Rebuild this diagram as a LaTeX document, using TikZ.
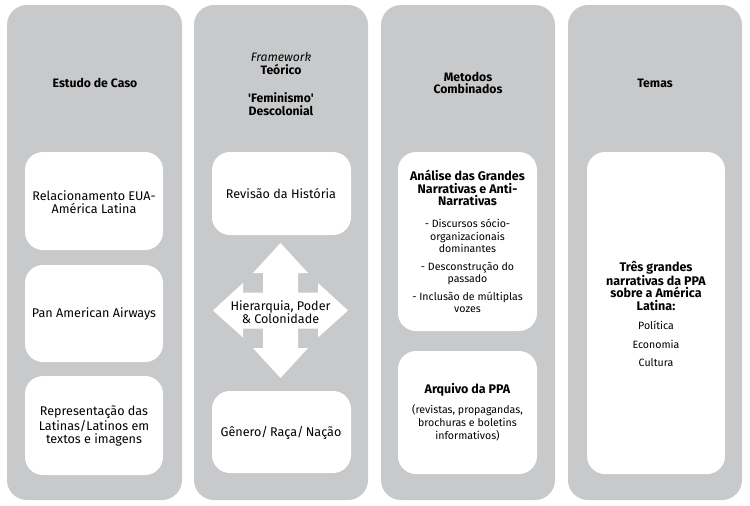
\documentclass[tikz,border=0pt]{standalone}
\usepackage{fontspec}
\setmainfont{Fira Sans}
\definecolor{colgray}{RGB}{200,201,203}
\begin{document}
\begin{tikzpicture}[x=1pt,y=-1pt,
  column/.style={fill=colgray,draw=none,rounded corners=20pt},
  wbox/.style={fill=white,draw=none,rounded corners=18pt},
  head/.style={font=\fontsize{12.2}{12.8}\selectfont\bfseries,align=center,inner sep=0pt},
  body/.style={font=\fontsize{12.6}{13.2}\selectfont,align=center,inner sep=0pt},
  small/.style={font=\fontsize{10.6}{12.8}\selectfont,align=center,inner sep=0pt},
  boldb/.style={font=\fontsize{12.5}{12.8}\selectfont\bfseries,align=center,inner sep=0pt}]
\useasboundingbox (0,0) rectangle (750,506);
% columns
\fill[column] (7,5) rectangle (182,500);
\fill[column] (194,5) rectangle (368,500);
\fill[column] (381,5) rectangle (555,500);
\fill[column] (568,5) rectangle (742,500);
% headers
\node[head] (h1) at (95,83) {Estudo de Caso};
\node[head] (h2) at (281,84) {\textit{\mdseries Framework}\\Teórico\\[15pt]\textquotesingle Feminismo\textquotesingle\\Descolonial};
\node[head] (h3) at (468,83) {Metodos\\Combinados};
\node[head] (h4) at (655,83) {Temas};
% column 1
\fill[wbox] (25,152) rectangle (163,250);
\node[body] (c1a) at (94,202) {Relacionamento EUA-\\América Latina};
\fill[wbox] (25,265) rectangle (163,362);
\node[body] (c1b) at (94,314) {Pan American Airways};
\fill[wbox] (25,376) rectangle (163,475);
\node[body] (c1c) at (94,426) {Representação das\\Latinas/Latinos em\\textos e imagens};
% column 2
\fill[wbox] (212,152) rectangle (351,235);
\node[body] (c2a) at (281,194) {Revisão da História};
\fill[wbox] (212,391) rectangle (351,473);
\node[body] (c2b) at (281,433) {Gênero/\,Raça/\,Nação};
% four-way arrow
\fill[white] (280.5,243) -- (308,273) -- (298,273) -- (298,292.5) -- (318,292.5) -- (318,283) -- (348,310.5)
  -- (318,337.5) -- (318,328.5) -- (298,328.5) -- (298,348) -- (308,348) -- (280.5,378) -- (253,348) -- (263,348)
  -- (263,328.5) -- (243,328.5) -- (243,337.5) -- (213,310.5) -- (243,283) -- (243,292.5) -- (263,292.5)
  -- (263,273) -- (253,273) -- cycle;
\node[body] (c2m) at (280.5,312) {Hierarquia, Poder\\\& Colonidade};
% column 3
\fill[wbox] (398,152) rectangle (537,331);
\node[boldb] (c3t) at (467.5,188) {Análise das Grandes\\Narrativas e Anti-\\Narrativas};
\node[small] (c3l) at (467.5,266) {- Discursos sócio-\\[-0.5pt]organizacionais\\[-0.5pt]dominantes\\[5pt]- Desconstrução do\\[-0.5pt]passado\\[5pt]- Inclusão de múltiplas\\[-0.5pt]vozes};
\fill[wbox] (398,351) rectangle (537,474);
\node[font=\fontsize{12.5}{14}\selectfont\bfseries,inner sep=0pt] (c3b) at (467.5,390) {Arquivo da PPA};
\node[small] (c3c) at (467.5,422.5) {(revistas, propagandas,\\brochuras e boletins\\informativos)};
% column 4
\fill[wbox] (587,152) rectangle (725,474);
\node[boldb] (c4t) at (656,286) {Três grandes\\narrativas da PPA\\sobre a América\\Latina:};
\node[small] (c4a) at (656,325) {Política};
\node[small] (c4b) at (656,344) {Economia};
\node[small] (c4c) at (656,363) {Cultura};
\end{tikzpicture}
\end{document}
